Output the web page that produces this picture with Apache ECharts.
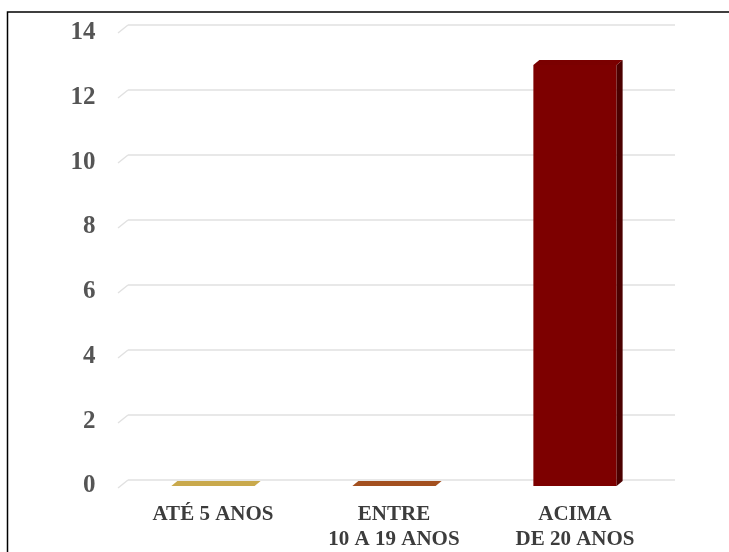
<!DOCTYPE html>
<html>
<head>
<meta charset="utf-8">
<script src="https://cdn.jsdelivr.net/npm/echarts@6/dist/echarts.min.js"></script>
<style>
html,body{margin:0;padding:0;background:#fff;}
#chart{width:729px;height:552px;}
</style>
</head>
<body>
<div id="chart"></div>
<script>
// Data
const categories = ['ATÉ 5 ANOS', 'ENTRE\n10 A 19 ANOS', 'ACIMA\nDE 20 ANOS'];
const values = [0, 0, 13];
const yTicks = [0, 2, 4, 6, 8, 10, 12, 14];

// Styles
const barColors = [
  { front: '#C9A94C', top: '#C9A94C', side: '#9c7f30' },
  { front: '#A3501F', top: '#A3501F', side: '#7a3612' },
  { front: '#7D0000', top: '#7A0000', side: '#4C0000' }
];
const FONT = '"Liberation Serif", "Times New Roman", serif';

const chart = echarts.init(document.getElementById('chart'));

const option = {
  animation: false,
  backgroundColor: '#ffffff',
  graphic: [{
    type: 'rect',
    shape: { x: 7.5, y: 12, width: 760, height: 580 },
    style: { fill: 'none', stroke: '#000000', lineWidth: 1.5 },
    z: 100
  }],
  grid: [
    { left: 128, right: 54, top: 25, bottom: 72 },
    { left: 122.5, right: 63.5, top: 32.5, bottom: 65 }
  ],
  xAxis: [
    { gridIndex: 0, type: 'value', min: 0, max: 1, show: false },
    {
      gridIndex: 1, type: 'category', data: categories,
      axisLine: { show: false }, axisTick: { show: false },
      axisLabel: {
        margin: 16, color: '#3c3c3c', fontFamily: FONT, fontWeight: 'bold',
        fontSize: 21, lineHeight: 25, interval: 0
      }
    }
  ],
  yAxis: [
    {
      gridIndex: 0, type: 'value', min: 0, max: 14, interval: 2,
      axisLabel: { show: false }, axisLine: { show: false }, axisTick: { show: false },
      splitLine: { show: true, lineStyle: { color: '#e1e1e1', width: 1.5 } }
    },
    {
      gridIndex: 1, type: 'value', min: 0, max: 14, interval: 2,
      axisLine: { show: false }, axisTick: { show: false },
      splitLine: { show: false },
      axisLabel: {
        margin: 27, color: '#555555', fontFamily: FONT, fontWeight: 'bold', fontSize: 25
      }
    }
  ],
  series: [
    {
      type: 'custom', xAxisIndex: 0, yAxisIndex: 0,
      data: yTicks.map(v => [0, v]),
      renderItem: function (params, api) {
        const p = api.coord([0, api.value(1)]);
        return {
          type: 'line',
          shape: { x1: p[0] - 10, y1: p[1] + 8, x2: p[0], y2: p[1] },
          style: { stroke: '#e1e1e1', lineWidth: 1.5 }
        };
      }
    },
    {
      type: 'custom', xAxisIndex: 1, yAxisIndex: 1,
      data: values.map((v, i) => [i, v]),
      z: 10,
      renderItem: function (params, api) {
        const c = api.coord([api.value(0), api.value(1)]);
        const b = api.coord([api.value(0), 0]);
        const band = api.size([1, 0])[0];
        const w = band * 0.46, dx = 6, dy = -5;
        const x0 = c[0] - w / 2, x1 = c[0] + w / 2, yt = c[1], yb = b[1];
        const col = barColors[params.dataIndex];
        return {
          type: 'group',
          children: [
            { type: 'rect', shape: { x: x0, y: yt, width: w, height: yb - yt }, style: { fill: col.front } },
            { type: 'polygon', shape: { points: [[x1, yt], [x1 + dx, yt + dy], [x1 + dx, yb + dy], [x1, yb]] }, style: { fill: col.side } },
            { type: 'polygon', shape: { points: [[x0, yt], [x0 + dx, yt + dy], [x1 + dx, yt + dy], [x1, yt]] }, style: { fill: col.top } }
          ]
        };
      }
    }
  ]
};

chart.setOption(option);
</script>
</body>
</html>
